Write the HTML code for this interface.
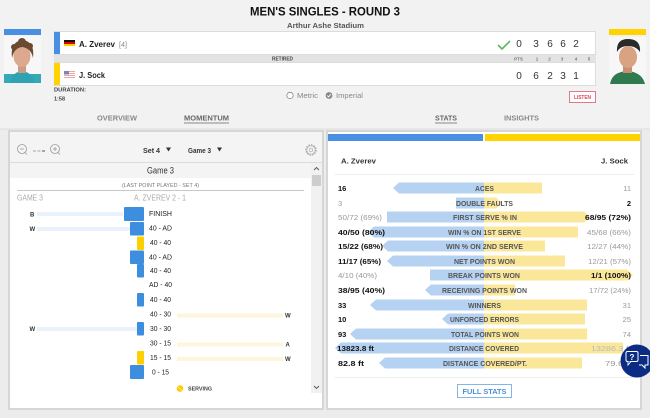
<!DOCTYPE html>
<html><head><meta charset="utf-8"><style>
html,body{margin:0;padding:0;background:#f2f2f2;}
svg{display:block;font-family:"Liberation Sans",sans-serif;}
</style></head><body>
<svg width="650" height="418" viewBox="0 0 650 418" xmlns="http://www.w3.org/2000/svg">
<rect x="0" y="0" width="650" height="418" fill="#f2f2f2"/>
<rect x="0" y="129" width="650" height="289" fill="#ececec"/>
<line x1="0" y1="129" x2="650" y2="129" stroke="#dedede"/>

<!-- Title -->
<text x="250" y="15.5" font-size="12" font-weight="bold" fill="#111" textLength="150" lengthAdjust="spacingAndGlyphs">MEN'S SINGLES - ROUND 3</text>
<text x="287" y="28" font-size="7.5" font-weight="bold" fill="#555" textLength="77" lengthAdjust="spacingAndGlyphs">Arthur Ashe Stadium</text>

<!-- Left photo -->
<rect x="4" y="29" width="37" height="6" fill="#4a90e2"/>
<rect x="4" y="36" width="37" height="47" fill="#f7f7f7"/>
<rect x="4" y="74" width="37" height="9" fill="#34aab8"/>
<path d="M10 83 Q12 72 22 71 Q32 72 35 83 Z" fill="#2fa3b3"/>
<rect x="18" y="64" width="8" height="9" fill="#d19a80"/>
<ellipse cx="22" cy="56" rx="8.5" ry="11" fill="#dca98f"/>
<path d="M12 58 Q10 42 22 40 Q35 41 33 58 Q31 48 22 47 Q14 48 12 58 Z" fill="#6a4a30"/>
<circle cx="14" cy="47" r="3" fill="#6a4a30"/><circle cx="30" cy="46" r="3" fill="#6a4a30"/>
<circle cx="22" cy="42" r="4" fill="#6a4a30"/>

<!-- Right photo -->
<rect x="609" y="29" width="37" height="6" fill="#ffd200"/>
<rect x="609" y="37" width="37" height="47" fill="#f7f7f7"/>
<path d="M610 84 Q612 72 627 71 Q642 72 645 84 Z" fill="#2f7a4e"/>
<rect x="623" y="64" width="9" height="9" fill="#c98e72"/>
<ellipse cx="628" cy="57" rx="9" ry="11" fill="#d9a283"/>
<path d="M617 52 Q616 39 628 39 Q641 39 640 52 Q636 46 628 46 Q620 46 617 52 Z" fill="#2a2a2a"/>

<!-- Score box -->
<rect x="54.5" y="31.5" width="541" height="23" fill="#fff" stroke="#dcdcdc"/>
<rect x="54" y="32" width="6" height="22" fill="#4a90e2"/>
<rect x="54" y="55" width="542" height="7" fill="#e3e3e3"/>
<rect x="54.5" y="62.5" width="541" height="23" fill="#fff" stroke="#dcdcdc"/>
<rect x="54" y="63" width="6" height="22" fill="#ffd200"/>
<!-- flags -->
<rect x="64" y="40" width="11" height="2" fill="#111"/>
<rect x="64" y="42" width="11" height="2" fill="#dd0000"/>
<rect x="64" y="44" width="11" height="2" fill="#ffce00"/>
<rect x="64" y="71" width="11" height="7" fill="#f4a3a3"/>
<rect x="64" y="72" width="11" height="1" fill="#fff"/><rect x="64" y="74" width="11" height="1" fill="#fff"/><rect x="64" y="76" width="11" height="1" fill="#fff"/>
<rect x="64" y="71" width="5" height="3.5" fill="#7d86b8"/>
<text x="79" y="47" font-size="8.5" font-weight="bold" fill="#222" textLength="36" lengthAdjust="spacingAndGlyphs">A. Zverev</text>
<text x="119" y="47" font-size="7" fill="#888" textLength="8" lengthAdjust="spacingAndGlyphs">[4]</text>
<text x="79" y="78" font-size="8.5" font-weight="bold" fill="#222" textLength="26" lengthAdjust="spacingAndGlyphs">J. Sock</text>
<text x="272" y="60.5" font-size="5.5" font-weight="bold" fill="#444" textLength="21" lengthAdjust="spacingAndGlyphs">RETIRED</text>
<path d="M498 45 L502 49 L510 41" fill="none" stroke="#5cb85c" stroke-width="1.6"/>
<g font-size="10" fill="#333" text-anchor="middle">
<text x="519" y="47">0</text><text x="536" y="47">3</text><text x="550" y="47">6</text><text x="563" y="47">6</text><text x="576" y="47">2</text>
<text x="519" y="79">0</text><text x="536" y="79">6</text><text x="550" y="79">2</text><text x="563" y="79">3</text><text x="576" y="79">1</text>
</g>
<g font-size="4.5" font-weight="bold" fill="#777" text-anchor="middle">
<text x="518.5" y="60.5">PTS</text><text x="537" y="60.5">1</text><text x="549.5" y="60.5">2</text><text x="562" y="60.5">3</text><text x="576" y="60.5">4</text><text x="589" y="60.5">5</text>
</g>

<!-- Duration -->
<text x="54" y="91.5" font-size="5.5" font-weight="bold" fill="#444" textLength="32" lengthAdjust="spacingAndGlyphs">DURATION:</text>
<text x="54" y="100.5" font-size="5.5" font-weight="bold" fill="#444" textLength="11" lengthAdjust="spacingAndGlyphs">1:58</text>

<!-- Metric / Imperial -->
<circle cx="290" cy="95.5" r="3.2" fill="#fff" stroke="#888" stroke-width="0.8"/>
<text x="297" y="98" font-size="7.5" fill="#888" textLength="21" lengthAdjust="spacingAndGlyphs">Metric</text>
<circle cx="329" cy="95.5" r="3.4" fill="#888"/>
<path d="M327.3 95.6 L328.6 96.9 L330.8 94.3" fill="none" stroke="#fff" stroke-width="0.9"/>
<text x="336" y="98" font-size="7.5" fill="#888" textLength="27" lengthAdjust="spacingAndGlyphs">Imperial</text>

<!-- Listen -->
<rect x="569.5" y="91.5" width="26" height="11" fill="#fff" stroke="#e07a88"/>
<text x="582.5" y="99" font-size="5" font-weight="bold" fill="#d9455a" text-anchor="middle" textLength="17" lengthAdjust="spacingAndGlyphs">LISTEN</text>

<!-- Tabs -->
<text x="97" y="120.5" font-size="7" font-weight="bold" fill="#888" textLength="40" lengthAdjust="spacingAndGlyphs">OVERVIEW</text>
<text x="184" y="120.5" font-size="7" font-weight="bold" fill="#666" textLength="45" lengthAdjust="spacingAndGlyphs">MOMENTUM</text>
<line x1="184" y1="123" x2="229" y2="123" stroke="#888"/>
<text x="435" y="120.5" font-size="7" font-weight="bold" fill="#666" textLength="22" lengthAdjust="spacingAndGlyphs">STATS</text>
<line x1="435" y1="123" x2="457" y2="123" stroke="#888"/>
<text x="504" y="120.5" font-size="7" font-weight="bold" fill="#888" textLength="35" lengthAdjust="spacingAndGlyphs">INSIGHTS</text>

<!-- LEFT PANEL -->
<rect x="8" y="130" width="316" height="280" fill="#d6d6d6"/>
<rect x="10" y="132" width="312" height="276" fill="#fff"/>
<rect x="10" y="132" width="312" height="30" fill="#f4f4f4"/>
<line x1="10" y1="162.5" x2="322" y2="162.5" stroke="#dcdcdc"/>
<!-- zoom controls -->
<circle cx="22" cy="149" r="4.5" fill="none" stroke="#999" stroke-width="0.8"/>
<line x1="20" y1="149" x2="24" y2="149" stroke="#999" stroke-width="0.8"/>
<line x1="25" y1="152.5" x2="27" y2="154.5" stroke="#999" stroke-width="0.8"/>
<line x1="33" y1="151" x2="36" y2="151" stroke="#999" stroke-width="0.9"/>
<line x1="37.5" y1="151" x2="40.5" y2="151" stroke="#999" stroke-width="0.9"/>
<line x1="42" y1="151" x2="45" y2="151" stroke="#444" stroke-width="0.9"/>
<circle cx="55" cy="149" r="4.5" fill="none" stroke="#999" stroke-width="0.8"/>
<line x1="53" y1="149" x2="57" y2="149" stroke="#999" stroke-width="0.8"/>
<line x1="55" y1="147" x2="55" y2="151" stroke="#999" stroke-width="0.8"/>
<line x1="58" y1="152.5" x2="60" y2="154.5" stroke="#999" stroke-width="0.8"/>
<text x="143" y="153" font-size="7" font-weight="bold" fill="#333" textLength="17" lengthAdjust="spacingAndGlyphs">Set 4</text>
<path d="M166 147.5 L171 147.5 L168.5 151.5 Z" fill="#333"/>
<text x="188" y="153" font-size="7" font-weight="bold" fill="#333" textLength="23" lengthAdjust="spacingAndGlyphs">Game 3</text>
<path d="M217 147.5 L222 147.5 L219.5 151.5 Z" fill="#333"/>
<circle cx="311" cy="150" r="5" fill="none" stroke="#aaa" stroke-width="1.6" stroke-dasharray="1.4 1.2"/>
<circle cx="311" cy="150" r="4.2" fill="#f4f4f4" stroke="#aaa" stroke-width="0.7"/>
<circle cx="311" cy="150" r="1.8" fill="none" stroke="#aaa" stroke-width="0.7"/>
<!-- game header row -->
<rect x="10" y="163" width="301" height="15" fill="#f4f4f4"/>
<text x="160.5" y="173.5" font-size="9" fill="#333" text-anchor="middle" textLength="27" lengthAdjust="spacingAndGlyphs">Game 3</text>
<!-- scrollbar -->
<rect x="311" y="163" width="11" height="230" fill="#f1f1f1"/>
<rect x="312" y="175" width="9" height="11" fill="#cdcdcd"/>
<path d="M314 170 L316.5 167.5 L319 170" fill="none" stroke="#555" stroke-width="0.9"/>
<path d="M314 386 L316.5 388.5 L319 386" fill="none" stroke="#555" stroke-width="0.9"/>
<text x="160.5" y="187" font-size="5.5" fill="#777" text-anchor="middle" textLength="77" lengthAdjust="spacingAndGlyphs">(LAST POINT PLAYED - SET 4)</text>
<line x1="17" y1="190.5" x2="304" y2="190.5" stroke="#c8c8c8"/>
<text x="17" y="200.5" font-size="8" fill="#aaa" textLength="26" lengthAdjust="spacingAndGlyphs">GAME 3</text>
<text x="134" y="200.5" font-size="8" fill="#aaa" textLength="52" lengthAdjust="spacingAndGlyphs">A. ZVEREV 2 - 1</text>

<!-- light lines -->
<rect x="37" y="212" width="86" height="4" fill="#e9f1fa"/>
<rect x="37" y="227" width="93" height="4" fill="#e9f1fa"/>
<rect x="37" y="327" width="100" height="4" fill="#e9f1fa"/>
<rect x="177" y="313.5" width="106" height="4" fill="#fdf6dc"/>
<rect x="177" y="342.5" width="106" height="4" fill="#fdf6dc"/>
<rect x="177" y="357" width="106" height="4" fill="#fdf6dc"/>
<g font-size="6" font-weight="bold" fill="#333">
<text x="30" y="216.5">B</text>
<text x="29.5" y="231">W</text>
<text x="29.5" y="331">W</text>
<text x="285" y="317.5">W</text>
<text x="285.5" y="346.5">A</text>
<text x="285" y="361">W</text>
</g>
<!-- momentum bars -->
<rect x="124" y="207" width="20" height="14" rx="1" fill="#3d8ede"/>
<rect x="130" y="222" width="14" height="13.5" rx="1" fill="#3d8ede"/>
<rect x="137" y="236.5" width="7" height="13.5" rx="1" fill="#ffd000"/>
<rect x="130" y="250.5" width="14" height="13.5" rx="1" fill="#3d8ede"/>
<rect x="137" y="264" width="7" height="13.5" rx="1" fill="#3d8ede"/>
<rect x="137" y="293" width="7" height="13.5" rx="1" fill="#3d8ede"/>
<rect x="137" y="322" width="7" height="13.5" rx="1" fill="#3d8ede"/>
<rect x="137" y="351" width="7" height="13.5" rx="1" fill="#ffd000"/>
<rect x="130" y="365" width="14" height="14" rx="1" fill="#3d8ede"/>
<g font-size="7.5" fill="#222">
<text x="149" y="216" textLength="23" lengthAdjust="spacingAndGlyphs">FINISH</text>
<text x="149" y="230.5" textLength="23" lengthAdjust="spacingAndGlyphs">40 - AD</text>
<text x="150" y="245" textLength="21" lengthAdjust="spacingAndGlyphs">40 - 40</text>
<text x="149" y="259.5" textLength="23" lengthAdjust="spacingAndGlyphs">40 - AD</text>
<text x="150" y="273" textLength="21" lengthAdjust="spacingAndGlyphs">40 - 40</text>
<text x="149" y="287" textLength="23" lengthAdjust="spacingAndGlyphs">AD - 40</text>
<text x="150" y="302" textLength="21" lengthAdjust="spacingAndGlyphs">40 - 40</text>
<text x="150" y="316.5" textLength="21" lengthAdjust="spacingAndGlyphs">40 - 30</text>
<text x="150" y="331" textLength="21" lengthAdjust="spacingAndGlyphs">30 - 30</text>
<text x="150" y="345.5" textLength="21" lengthAdjust="spacingAndGlyphs">30 - 15</text>
<text x="150" y="360" textLength="21" lengthAdjust="spacingAndGlyphs">15 - 15</text>
<text x="152" y="374.5" textLength="17" lengthAdjust="spacingAndGlyphs">0 - 15</text>
</g>
<circle cx="180" cy="388.5" r="3.3" fill="#ffcc00"/>
<path d="M177.5 386.5 Q180 389 182.5 390.5" fill="none" stroke="#fff" stroke-width="0.5"/>
<text x="188" y="390.5" font-size="5.5" font-weight="bold" fill="#444" textLength="24" lengthAdjust="spacingAndGlyphs">SERVING</text>

<!-- RIGHT PANEL -->
<rect x="326" y="130" width="316" height="280" fill="#d6d6d6"/>
<rect x="328" y="132" width="312" height="276" fill="#fff"/>
<rect x="328" y="134" width="155" height="7" fill="#4a90e2"/>
<rect x="485" y="134" width="155" height="7" fill="#ffd200"/>
<text x="341" y="163.5" font-size="7.5" font-weight="bold" fill="#333" textLength="35" lengthAdjust="spacingAndGlyphs">A. Zverev</text>
<text x="601" y="163.5" font-size="7.5" font-weight="bold" fill="#333" textLength="27" lengthAdjust="spacingAndGlyphs">J. Sock</text>
<line x1="335" y1="174.5" x2="634" y2="174.5" stroke="#eeeeee"/>

<g fill="#b5d2f2">
<polygon points="393,188 399,182.5 484,182.5 484,193.5 399,193.5"/>
<rect x="456" y="197.5" width="28" height="11"/>
<rect x="387" y="211.5" width="97" height="11"/>
<polygon points="368,232 374,226.5 484,226.5 484,237.5 374,237.5"/>
<polygon points="382,246 388,240.5 484,240.5 484,251.5 388,251.5"/>
<polygon points="387,261 393,255.5 484,255.5 484,266.5 393,266.5"/>
<rect x="430" y="269.5" width="54" height="11"/>
<polygon points="425,290 431,284.5 484,284.5 484,295.5 431,295.5"/>
<polygon points="370,305 376,299.5 484,299.5 484,310.5 376,310.5"/>
<polygon points="442,319 448,313.5 484,313.5 484,324.5 448,324.5"/>
<polygon points="350,334 356,328.5 484,328.5 484,339.5 356,339.5"/>
<polygon points="335,348 341,342.5 484,342.5 484,353.5 341,353.5"/>
<polygon points="379,363 385,357.5 484,357.5 484,368.5 385,368.5"/>
</g>
<g fill="#fbe79a">
<rect x="484" y="182.5" width="58" height="11"/>
<polygon points="484,197.5 496,197.5 502,203 496,208.5 484,208.5"/>
<polygon points="484,211.5 584,211.5 590,217 584,222.5 484,222.5"/>
<rect x="484" y="226.5" width="94" height="11"/>
<rect x="484" y="240.5" width="61" height="11"/>
<rect x="484" y="255.5" width="81" height="11"/>
<polygon points="484,269.5 627,269.5 633,275 627,280.5 484,280.5"/>
<rect x="484" y="284.5" width="31" height="11"/>
<rect x="484" y="299.5" width="103" height="11"/>
<rect x="484" y="313.5" width="101" height="11"/>
<rect x="484" y="328.5" width="103" height="11"/>
<rect x="484" y="342.5" width="139" height="11"/>
<rect x="484" y="357.5" width="98" height="11"/>
</g>
<g font-size="7.5" font-weight="bold" fill="#555" text-anchor="middle">
<text x="484.5" y="191" textLength="19" lengthAdjust="spacingAndGlyphs">ACES</text>
<text x="484.5" y="206" textLength="57" lengthAdjust="spacingAndGlyphs">DOUBLE FAULTS</text>
<text x="485" y="220" textLength="64" lengthAdjust="spacingAndGlyphs">FIRST SERVE % IN</text>
<text x="484.5" y="235" textLength="73" lengthAdjust="spacingAndGlyphs">WIN % ON 1ST SERVE</text>
<text x="484.5" y="249" textLength="77" lengthAdjust="spacingAndGlyphs">WIN % ON 2ND SERVE</text>
<text x="484.5" y="264" textLength="61" lengthAdjust="spacingAndGlyphs">NET POINTS WON</text>
<text x="484" y="278" textLength="72" lengthAdjust="spacingAndGlyphs">BREAK POINTS WON</text>
<text x="484.5" y="293" textLength="85" lengthAdjust="spacingAndGlyphs">RECEIVING POINTS WON</text>
<text x="484.5" y="308" textLength="33" lengthAdjust="spacingAndGlyphs">WINNERS</text>
<text x="484.5" y="322" textLength="69" lengthAdjust="spacingAndGlyphs">UNFORCED ERRORS</text>
<text x="485" y="337" textLength="68" lengthAdjust="spacingAndGlyphs">TOTAL POINTS WON</text>
<text x="484" y="351" textLength="70" lengthAdjust="spacingAndGlyphs">DISTANCE COVERED</text>
<text x="485" y="366" textLength="84" lengthAdjust="spacingAndGlyphs">DISTANCE COVERED/PT.</text>
</g>
<g font-size="7.5">
<text x="338" y="191" font-weight="bold" fill="#111">16</text>
<text x="338" y="206" fill="#999">3</text>
<text x="338" y="220" fill="#999" textLength="44" lengthAdjust="spacingAndGlyphs">50/72 (69%)</text>
<text x="338" y="235" font-weight="bold" fill="#111" textLength="47" lengthAdjust="spacingAndGlyphs">40/50 (80%)</text>
<text x="338" y="249" font-weight="bold" fill="#111" textLength="45" lengthAdjust="spacingAndGlyphs">15/22 (68%)</text>
<text x="338" y="264" font-weight="bold" fill="#111" textLength="43" lengthAdjust="spacingAndGlyphs">11/17 (65%)</text>
<text x="338" y="278" fill="#999" textLength="39" lengthAdjust="spacingAndGlyphs">4/10 (40%)</text>
<text x="338" y="293" font-weight="bold" fill="#111" textLength="47" lengthAdjust="spacingAndGlyphs">38/95 (40%)</text>
<text x="338" y="308" font-weight="bold" fill="#111">33</text>
<text x="338" y="322" font-weight="bold" fill="#111">10</text>
<text x="338" y="337" font-weight="bold" fill="#111">93</text>
<text x="337" y="351" font-weight="bold" fill="#111" textLength="37" lengthAdjust="spacingAndGlyphs">13823.8 ft</text>
<text x="338" y="366" font-weight="bold" fill="#111" textLength="26" lengthAdjust="spacingAndGlyphs">82.8 ft</text>
</g>
<g font-size="7.5" text-anchor="end">
<text x="631" y="191" fill="#999">11</text>
<text x="631" y="206" font-weight="bold" fill="#111">2</text>
<text x="631" y="220" font-weight="bold" fill="#111" textLength="46" lengthAdjust="spacingAndGlyphs">68/95 (72%)</text>
<text x="631" y="235" fill="#999" textLength="44" lengthAdjust="spacingAndGlyphs">45/68 (66%)</text>
<text x="631" y="249" fill="#999" textLength="44" lengthAdjust="spacingAndGlyphs">12/27 (44%)</text>
<text x="631" y="264" fill="#999" textLength="43" lengthAdjust="spacingAndGlyphs">12/21 (57%)</text>
<text x="631" y="278" font-weight="bold" fill="#111" textLength="40" lengthAdjust="spacingAndGlyphs">1/1 (100%)</text>
<text x="631" y="293" fill="#999" textLength="42" lengthAdjust="spacingAndGlyphs">17/72 (24%)</text>
<text x="631" y="308" fill="#999">31</text>
<text x="631" y="322" fill="#999">25</text>
<text x="631" y="337" fill="#999">74</text>
<text x="631" y="351" fill="#bbb" textLength="40" lengthAdjust="spacingAndGlyphs">13286.3 ft</text>
<text x="631" y="366" fill="#999" textLength="26" lengthAdjust="spacingAndGlyphs">79.6 ft</text>
</g>
<line x1="335" y1="377.5" x2="634" y2="377.5" stroke="#eeeeee"/>
<rect x="457.5" y="384.5" width="54" height="13" fill="#fff" stroke="#86b6e6"/>
<text x="484.5" y="394" font-size="7" font-weight="bold" fill="#4a90d9" text-anchor="middle" textLength="44" lengthAdjust="spacingAndGlyphs">FULL STATS</text>

<!-- chat bubble -->
<circle cx="637" cy="361" r="16.5" fill="#0c2c84"/>
<rect x="626" y="351.5" width="12" height="10" rx="1.5" fill="#0c2c84" stroke="#fff" stroke-width="1"/>
<path d="M628 361.5 L628 365 L631 361.5" fill="#0c2c84" stroke="#fff" stroke-width="0.9"/>
<text x="632" y="360" font-size="8" font-weight="bold" fill="#fff" text-anchor="middle">?</text>
<path d="M640 355.5 L648 355.5 L648 365 L645 365 L645 368 L642 365 L639 365" fill="none" stroke="#fff" stroke-width="1"/>
</svg>
</body></html>
